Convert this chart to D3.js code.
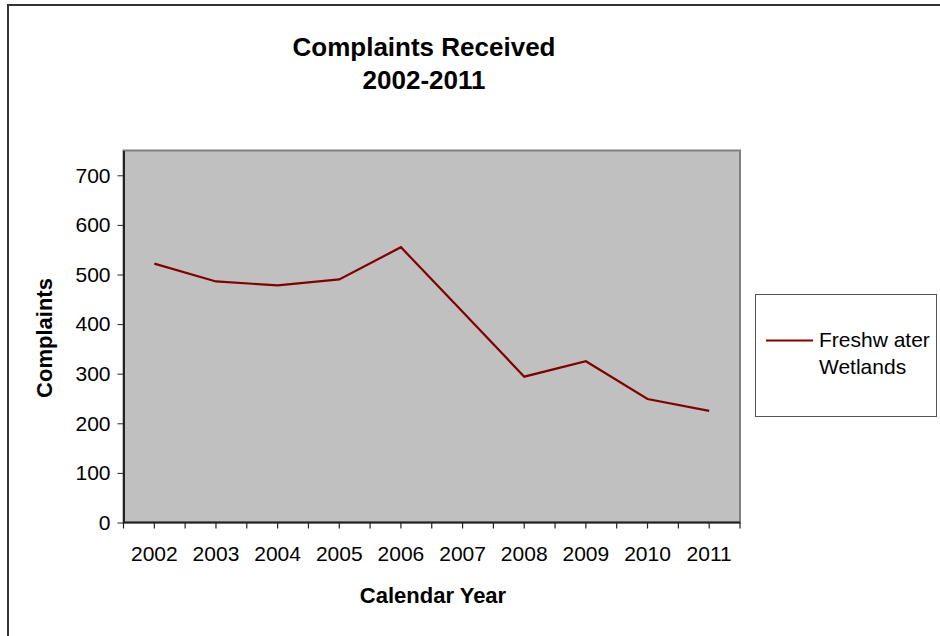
<!DOCTYPE html>
<html><head><meta charset="utf-8">
<script src="https://cdn.jsdelivr.net/npm/d3@7"></script>
<style>
html,body{margin:0;padding:0;background:#fff;}
svg{display:block;font-family:"Liberation Sans",Arial,sans-serif;}
</style></head>
<body>
<svg id="chart" width="940" height="636"></svg>
<script>
const years = ["2002","2003","2004","2005","2006","2007","2008","2009","2010","2011"];
const freshwaterWetlands = [522, 486, 478, 490, 555, 425, 294, 325, 249, 225];
const yTicks = [0, 100, 200, 300, 400, 500, 600, 700];
const titleLines = ["Complaints Received", "2002-2011"];
const seriesName = ["Freshw ater", "Wetlands"];

const svg = d3.select("#chart");
const plot = {left: 123.5, right: 740, top: 150.5, bottom: 522.5};

// outer chart border
svg.append("rect").attr("x", 8).attr("y", 5).attr("width", 960).attr("height", 700)
  .attr("fill", "#fff").attr("stroke", "#333").attr("stroke-width", 2);

const x = d3.scaleBand().domain(years).range([plot.left, plot.right]).paddingInner(0).paddingOuter(0);
const y = d3.scaleLinear().domain([0, 750]).range([plot.bottom, plot.top]);

// plot area
svg.append("rect").attr("x", plot.left).attr("y", plot.top)
  .attr("width", plot.right - plot.left).attr("height", plot.bottom - plot.top)
  .attr("fill", "#c0c0c0").attr("stroke", "#808080").attr("stroke-width", 2);

// y axis
const yAxis = d3.axisLeft(y).tickValues(yTicks).tickSize(6).tickPadding(7).tickSizeOuter(0);
const gy = svg.append("g").attr("transform", `translate(${plot.left},0)`).call(yAxis);
gy.select(".domain").attr("stroke", "#222").attr("stroke-width", 2);
gy.selectAll(".tick line").attr("stroke", "#222");
gy.selectAll(".tick text").attr("font-size", 21).attr("fill", "#000")
  .attr("font-family", "Liberation Sans, Arial, sans-serif");

// x axis: line + ticks at category boundaries and centres
const gx = svg.append("g").attr("transform", `translate(0,${plot.bottom})`);
gx.append("line").attr("x1", plot.left).attr("x2", plot.right).attr("y1", 0).attr("y2", 0)
  .attr("stroke", "#222").attr("stroke-width", 2);
const tickPos = [];
years.forEach(yr => { tickPos.push(x(yr)); tickPos.push(x(yr) + x.bandwidth() / 2); });
tickPos.push(plot.right);
gx.selectAll("line.t").data(tickPos).enter().append("line").attr("class", "t")
  .attr("x1", d => d).attr("x2", d => d).attr("y1", 0).attr("y2", 6)
  .attr("stroke", "#222").attr("stroke-width", 1.2);
gx.selectAll("text").data(years).enter().append("text")
  .attr("x", d => x(d) + x.bandwidth() / 2).attr("y", 38)
  .attr("text-anchor", "middle").attr("font-size", 21).attr("fill", "#000").text(d => d);

// line
const line = d3.line().x((d, i) => x(years[i]) + x.bandwidth() / 2).y(d => y(d));
svg.append("path").datum(freshwaterWetlands).attr("d", line)
  .attr("fill", "none").attr("stroke", "#800000").attr("stroke-width", 2.2)
  .attr("stroke-linejoin", "miter");

// title
svg.selectAll("text.title").data(titleLines).enter().append("text").attr("class", "title")
  .attr("x", 424).attr("y", (d, i) => 56 + i * 33).attr("text-anchor", "middle")
  .attr("font-size", 26).attr("font-weight", "bold").attr("fill", "#000").text(d => d);

// axis titles
svg.append("text").attr("x", 433).attr("y", 603).attr("text-anchor", "middle")
  .attr("font-size", 22).attr("font-weight", "bold").text("Calendar Year");
svg.append("text").attr("transform", "translate(52,338) rotate(-90)").attr("text-anchor", "middle")
  .attr("font-size", 22).attr("font-weight", "bold").text("Complaints");

// legend
const lg = svg.append("g");
lg.append("rect").attr("x", 755.5).attr("y", 294.5).attr("width", 181).attr("height", 122)
  .attr("fill", "#fff").attr("stroke", "#555").attr("stroke-width", 1);
lg.append("line").attr("x1", 766).attr("x2", 813).attr("y1", 340.5).attr("y2", 340.5)
  .attr("stroke", "#800000").attr("stroke-width", 2);
lg.selectAll("text").data(seriesName).enter().append("text")
  .attr("x", 819).attr("y", (d, i) => 347 + i * 27).attr("font-size", 21).attr("fill", "#000")
  .text(d => d);
</script>
</body></html>
